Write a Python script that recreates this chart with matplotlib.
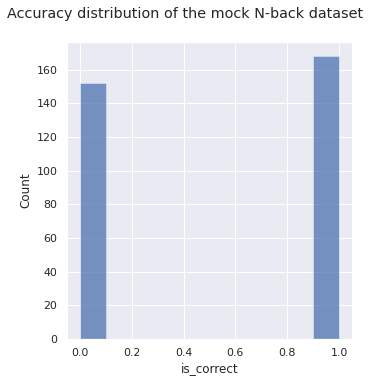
import matplotlib
matplotlib.use("Agg")
import matplotlib.pyplot as plt
import seaborn as sns
import numpy as np

sns.set_theme()

is_correct_values = [0, 1]
counts = [152, 168]

fig = plt.figure(figsize=(370/72, 383/72), dpi=72)
ax = fig.add_axes([67/370, 1-339/383, (352-67)/370, (339-42)/383])
ax.hist(is_correct_values, weights=counts, bins=10, range=(0, 1),
        color=sns.color_palette()[0], alpha=0.75, edgecolor="white", linewidth=0.5)
ax.set_xlim(-0.05, 1.05)
ax.set_ylim(0, 176.4)
ax.set_xlabel("is_correct")
ax.set_ylabel("Count")
fig.suptitle("Accuracy distribution of the mock N-back dataset", x=0.5, y=0.982, fontsize=14.4)
fig.savefig("out.png", dpi=72)
